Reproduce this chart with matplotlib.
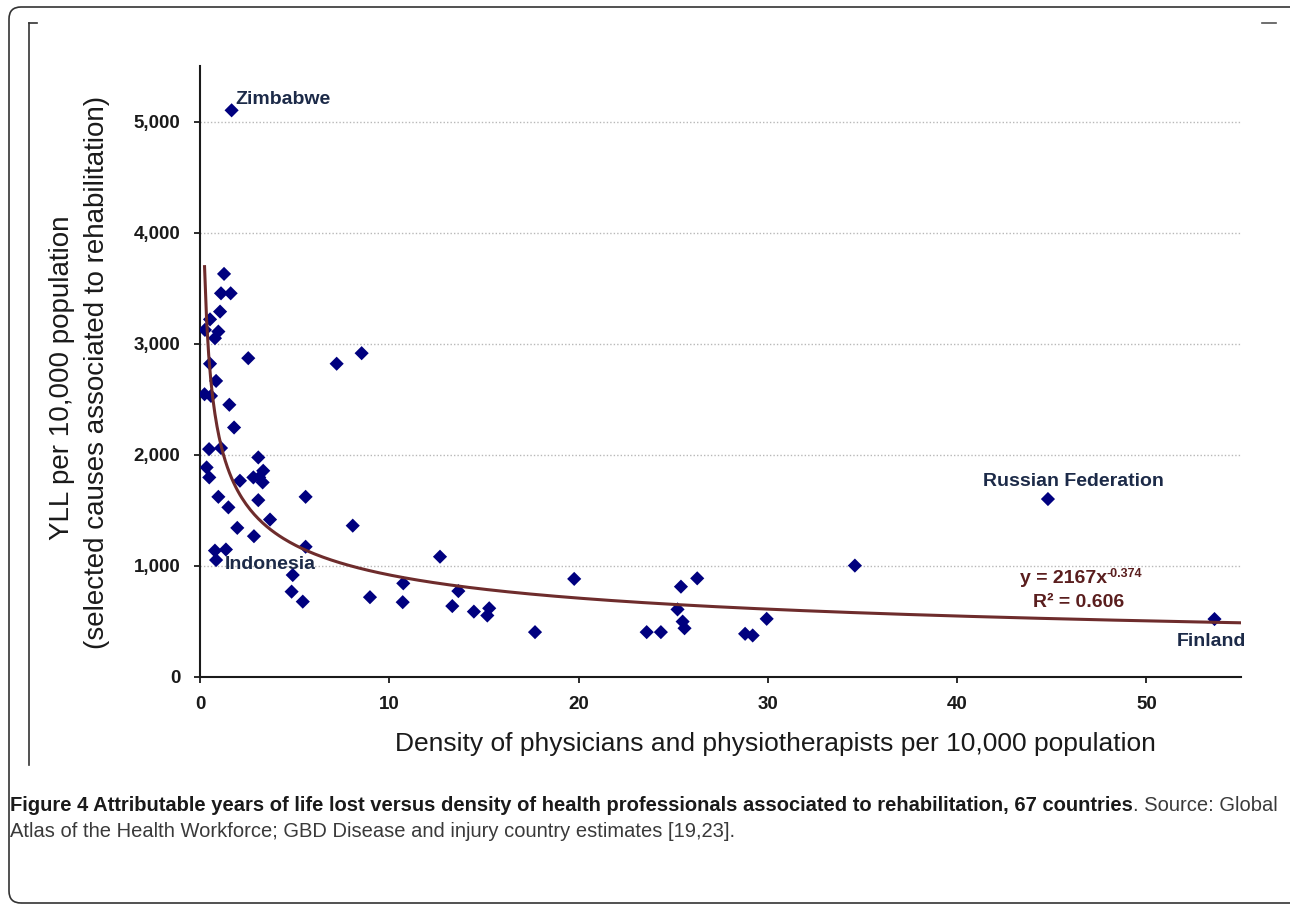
import numpy as np
import matplotlib
matplotlib.use("Agg")
import matplotlib.pyplot as plt
from matplotlib.lines import Line2D
from matplotlib.patches import FancyBboxPatch
from matplotlib.transforms import IdentityTransform

# density of physicians + physiotherapists per 10,000 population
density = [1.27, 1.11, 1.62, 1.06, 0.53, 0.26, 0.97, 0.79, 2.55, 7.22,
           8.54, 0.53, 0.85, 0.24, 0.58, 1.55, 1.80, 0.48, 1.11, 3.08,
           0.35, 0.49, 2.11, 2.82, 3.13, 3.34, 3.31, 0.97, 3.08, 5.58,
           1.50, 3.70, 1.97, 8.07, 2.85, 5.58, 0.79, 1.37, 0.85, 4.90,
           4.84, 5.43, 8.98, 10.74, 10.71,
           12.68, 13.65, 13.33, 14.47, 15.28, 15.18, 17.70, 19.77, 23.60, 24.35,
           25.41, 26.27, 25.23, 25.50, 25.60, 29.94, 28.80, 29.20,
           34.60, 44.80, 53.60, 1.67]
# YLL per 10,000 population
yll = [3630, 3455, 3455, 3290, 3220, 3125, 3110, 3050, 2870, 2820,
       2915, 2820, 2665, 2545, 2530, 2450, 2245, 2050, 2060, 1975,
       1885, 1795, 1765, 1795, 1795, 1855, 1750, 1620, 1590, 1620,
       1525, 1415, 1340, 1360, 1265, 1170, 1135, 1145, 1050, 915,
       765, 675, 715, 840, 670,
       1080, 770, 635, 585, 615, 550, 400, 880, 400, 400,
       810, 885, 605, 495, 435, 520, 385, 370,
       1000, 1600, 518, 5105]

labelled = ["Zimbabwe", "Indonesia", "Russian Federation", "Finland"]
labelled_idx = [66, 38, 64, 65]

fit_a = 2167
fit_b = -0.374
fit_r2 = 0.606

x_ticks = [0, 10, 20, 30, 40, 50]
y_ticks = [0, 1000, 2000, 3000, 4000, 5000]
y_ticklabels = ["0", "1,000", "2,000", "3,000", "4,000", "5,000"]

caption_bold = ("Figure 4 Attributable years of life lost versus density of health "
                "professionals associated to rehabilitation, 67 countries")
caption_rest = ". Source: Global"
caption_line2 = "Atlas of the Health Workforce; GBD Disease and injury country estimates [19,23]."

W, H = 1290, 905
plt.rcParams["font.family"] = ["Liberation Sans", "DejaVu Sans"]

fig = plt.figure(figsize=(W / 100, H / 100), dpi=100)
fig.patch.set_facecolor("white")


def fx(px):
    return px / W


def fy(py):
    return 1 - py / H


ax = fig.add_axes([fx(200), fy(676.5), (1241 - 200) / W, (676.5 - 66.5) / H])
ax.set_xlim(0, 55)
ax.set_ylim(0, 5500)

# trend line from the fitted power law printed on the chart
xs = np.linspace(min(density), 55, 500)
ax.plot(xs, fit_a * xs ** fit_b, color="#6e2c2c", lw=2.2, zorder=4)

ax.scatter(density, yll, marker="D", s=52, color="#00007f", edgecolor="none", zorder=3)

ax.set_xticks(x_ticks)
ax.set_yticks(y_ticks)
ax.set_yticklabels(y_ticklabels)
for lab in ax.get_xticklabels() + ax.get_yticklabels():
    lab.set_fontweight("bold")
    lab.set_fontsize(13.5)
    lab.set_color("#1a1a1a")
ax.tick_params(axis="both", direction="out", length=4, width=1.3, color="#1a1a1a", pad=10)

ax.yaxis.grid(True, linestyle=(0, (1, 1.5)), color="#b8b8b8", lw=1.0)
ax.set_axisbelow(True)
for side in ["top", "right"]:
    ax.spines[side].set_visible(False)
for side in ["left", "bottom"]:
    ax.spines[side].set_linewidth(1.5)
    ax.spines[side].set_color("#1a1a1a")

label_style = dict(fontsize=14, fontweight="bold", color="#1c2a48",
                   textcoords="offset pixels", va="center")
ax.annotate(labelled[0], (density[labelled_idx[0]], yll[labelled_idx[0]]),
            xytext=(4, 11), ha="left", **label_style)
ax.annotate(labelled[1], (density[labelled_idx[1]], yll[labelled_idx[1]]),
            xytext=(9, -4), ha="left", **label_style)
ax.annotate(labelled[2], (density[labelled_idx[2]], yll[labelled_idx[2]]),
            xytext=(25, 18), ha="center", **label_style)
ax.annotate(labelled[3], (density[labelled_idx[3]], yll[labelled_idx[3]]),
            xytext=(-3, -22), ha="center", **label_style)

# equation + R squared
eq = ax.text(45.6, 888, "y = %dx" % fit_a, fontsize=14, fontweight="bold",
             color="#5a1e1e", ha="center", va="center")
ax.annotate("%.3f" % fit_b, xy=(1, 0.75), xycoords=eq, fontsize=9, fontweight="bold",
            color="#5a1e1e", ha="left", va="center")
ax.text(46.4, 663, "R² = %.3f" % fit_r2, fontsize=14, fontweight="bold",
        color="#5a1e1e", ha="center", va="center")

# axis titles
fig.text(fx(775), fy(744), "Density of physicians and physiotherapists per 10,000 population",
         fontsize=19, ha="center", va="center", color="#1a1a1a")
fig.text(fx(62), fy(378), "YLL per 10,000 population", fontsize=20, rotation=90,
         ha="center", va="center", color="#1a1a1a")
fig.text(fx(97), fy(372), "(selected causes associated to rehabilitation)", fontsize=20,
         rotation=90, ha="center", va="center", color="#1a1a1a")

# frame around the figure panel
ident = IdentityTransform()
box = FancyBboxPatch((9, H - 903), 1300, 896, boxstyle="round,pad=0,rounding_size=12",
                     transform=ident, fill=False, ec="#333333", lw=1.2)
fig.add_artist(box)
fig.add_artist(Line2D([29, 29], [H - 765, H - 23], transform=ident, color="#333333", lw=1.2))
fig.add_artist(Line2D([29, 37], [H - 23, H - 23], transform=ident, color="#333333", lw=1.2))
fig.add_artist(Line2D([1262, 1276], [H - 23, H - 23], transform=ident, color="#555555", lw=1.2))

# caption: first line spans the panel width (10 .. 1282 px)
cap_size = 14
t1 = fig.text(fx(10), fy(811), caption_bold, fontsize=cap_size, fontweight="bold",
              color="#1a1a1a", va="baseline")
t2 = fig.text(fx(10), fy(811), caption_rest, fontsize=cap_size, color="#3a3a3a", va="baseline")
fig.canvas.draw()
r = fig.canvas.get_renderer()
full = t1.get_window_extent(r).width + t2.get_window_extent(r).width
cap_size = cap_size * 1272 / full
t1.set_fontsize(cap_size)
t2.set_fontsize(cap_size)
fig.canvas.draw()
bb = t1.get_window_extent(r)
t2.set_x(bb.x1 / W)
fig.text(fx(10), fy(837), caption_line2, fontsize=cap_size, color="#3a3a3a", va="baseline")

fig.savefig("out.png", dpi=100)
